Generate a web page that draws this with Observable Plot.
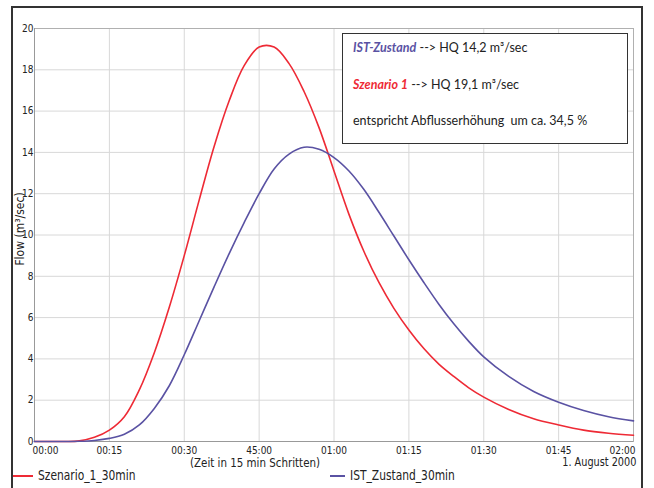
<!DOCTYPE html>
<html>
<head>
<meta charset="utf-8">
<script src="https://cdn.jsdelivr.net/npm/d3@7"></script>
<script src="https://cdn.jsdelivr.net/npm/@observablehq/plot@0.6"></script>
<style>
  html, body { margin: 0; padding: 0; background: #fff; }
  #wrap { position: relative; width: 654px; height: 488px; overflow: hidden; background: #fff;
          font-family: "Liberation Sans Narrow", "DejaVu Sans Condensed", "Liberation Sans", sans-serif; }
  #frame { position: absolute; left: 11px; top: 6px; width: 632px; height: 500px; border: 2px solid #333; box-sizing: border-box; pointer-events: none; }
  #chart { position: absolute; left: 0; top: 0; }
  .t { position: absolute; white-space: nowrap; color: #222; }
  #note { position: absolute; left: 342px; top: 33px; width: 286px; height: 111px; border: 1.5px solid #333; background: #fff; box-sizing: border-box;
          font-family: Lato, "Open Sans", sans-serif; font-size: 12.5px; color: #222; }
  #note div { position: absolute; left: 10px; white-space: nowrap; }
  .sw { position: absolute; height: 2px; }
</style>
</head>
<body>
<div id="wrap">
  <div id="chart"></div>
  <div id="frame"></div>
  <div id="note"></div>
  <div id="legend"></div>
</div>
<script>
// time in minutes from 00:00
const minutes = [0,3,6,9,12,15,18,21,24,27,30,33,36,39,42,45,48,51,54,57,60,63,66,69,72,75,78,81,84,87,90,95,100,105,110,115,120];
// Szenario_1_30min flow (m³/sec)
const szenario = [0,0,0,0.03,0.2,0.55,1.2,2.5,4.3,6.5,9.0,11.7,14.3,16.5,18.2,19.1,19.1,18.3,16.95,15.2,13.1,11.0,9.2,7.7,6.45,5.4,4.5,3.75,3.15,2.6,2.15,1.55,1.1,0.8,0.55,0.4,0.3];
// IST_Zustand_30min flow (m³/sec)
const istZustand = [0,0,0,0.01,0.05,0.15,0.35,0.8,1.6,2.7,4.2,5.85,7.5,9.1,10.6,12.0,13.2,13.92,14.25,14.15,13.75,13.1,12.2,11.1,9.95,8.8,7.7,6.65,5.7,4.85,4.1,3.15,2.42,1.9,1.5,1.2,1.0];

const xTicks = [0,15,30,45,60,75,90,105,120];
const xTickLabels = ["00:00","00:15","00:30","45:00","01:00","01:15","01:30","01:45","02:00"];
const yTicks = [0,2,4,6,8,10,12,14,16,18,20];

const seriesNames = ["Szenario_1_30min", "IST_Zustand_30min"];
const seriesColors = ["#ee2a35", "#5a52a3"];
const seriesValues = [szenario, istZustand];

const rows = [];
seriesNames.forEach((name, i) => {
  minutes.forEach((m, j) => rows.push({series: name, t: m, v: seriesValues[i][j]}));
});
const lab = t => xTickLabels[xTicks.indexOf(t)];

const fontFam = '"Liberation Sans Narrow", "DejaVu Sans Condensed", "Liberation Sans", sans-serif';

const chart = Plot.plot({
  width: 654,
  height: 488,
  marginLeft: 34,
  marginRight: 21,
  marginTop: 28,
  marginBottom: 47,
  style: {fontFamily: fontFam, fontSize: "10px", color: "#222", background: "transparent"},
  x: {domain: [0, 120], label: null},
  y: {domain: [0, 20], label: null},
  color: {domain: seriesNames, range: seriesColors},
  marks: [
    Plot.gridX(xTicks, {stroke: "#d8d8d8", strokeOpacity: 1}),
    Plot.gridY(yTicks, {stroke: "#d8d8d8", strokeOpacity: 1}),
    Plot.frame({stroke: "#b0b0b0"}),
    Plot.ruleX([0], {stroke: "#999"}),
    Plot.ruleY([0], {stroke: "#999"}),
    Plot.axisY(yTicks, {anchor: "left", tickSize: 0, tickPadding: 1, label: null, fontSize: 10}),
    Plot.axisX([xTicks[0]], {anchor: "bottom", tickSize: 0, tickPadding: 5, label: null, tickFormat: lab, textAnchor: "start", dx: -2}),
    Plot.axisX(xTicks.slice(1, -1), {anchor: "bottom", tickSize: 0, tickPadding: 5, label: null, tickFormat: lab}),
    Plot.axisX([xTicks[xTicks.length - 1]], {anchor: "bottom", tickSize: 0, tickPadding: 5, label: null, tickFormat: lab, textAnchor: "end", dx: 2}),
    Plot.line(rows, {x: "t", y: "v", z: "series", stroke: "series", strokeWidth: 1.6, curve: "catmull-rom"})
  ]
});
document.getElementById("chart").appendChild(chart);

// texts
const wrap = document.getElementById("wrap");
function addText(txt, css) {
  const d = document.createElement("div");
  d.className = "t";
  d.textContent = txt;
  Object.assign(d.style, css);
  wrap.appendChild(d);
  return d;
}
addText("(Zeit in 15 min Schritten)", {left: "190px", top: "456px", fontSize: "13px", lineHeight: "14px", transform: "scaleX(0.88)", transformOrigin: "left center"});
addText("1. August 2000", {right: "18px", top: "456px", fontSize: "12px", lineHeight: "13px", transform: "scaleX(0.9)", transformOrigin: "right center"});
addText("Flow (m³/sec)", {left: "20px", top: "229px", fontSize: "12px", transform: "translate(-50%,-50%) rotate(-90deg)"});

// legend
const legendPos = [{sx: 13, tx: 38}, {sx: 330, tx: 350}];
seriesNames.forEach((name, i) => {
  const s = document.createElement("div");
  s.className = "sw";
  Object.assign(s.style, {left: legendPos[i].sx + "px", top: "475px", width: (legendPos[i].tx - legendPos[i].sx - 5) + "px", background: seriesColors[i]});
  wrap.appendChild(s);
  addText(name, {left: legendPos[i].tx + "px", top: "468px", fontSize: "13.5px", lineHeight: "15px", transform: "scaleX(0.88)", transformOrigin: "left center"});
});

// annotation box
const note = document.getElementById("note");
note.innerHTML =
  '<div style="top:6px"><b><i style="color:#5a52a3">IST-Zustand</i></b> --&gt; HQ 14,2 m³/sec</div>' +
  '<div style="top:43px"><b><i style="color:#ee2a35">Szenario 1</i></b> --&gt; HQ 19,1 m³/sec</div>' +
  '<div style="top:79px">entspricht Abflusserhöhung&nbsp; um ca. 34,5 %</div>';
</script>
</body>
</html>
